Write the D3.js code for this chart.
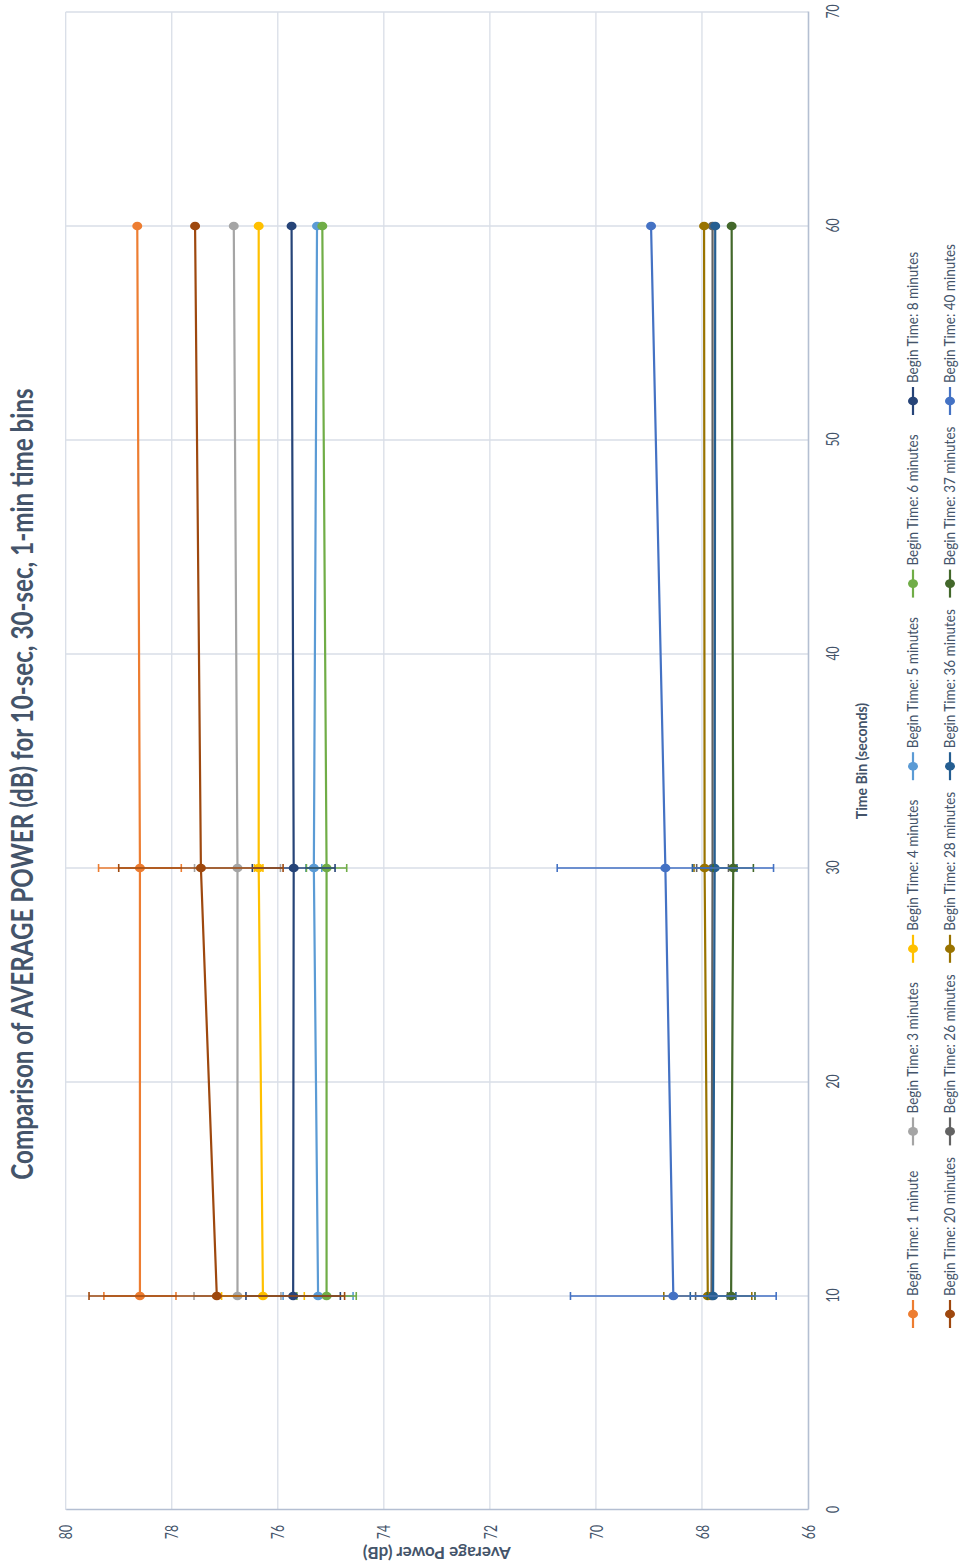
<!DOCTYPE html>
<html>
<head>
<meta charset="utf-8">
<script src="https://cdn.jsdelivr.net/npm/d3@7"></script>
<style>
  body { margin: 0; background: #ffffff; }
  svg { display: block; font-family: Lato, "Open Sans", sans-serif; }
</style>
</head>
<body>
<svg id="chart" width="961" height="1568"></svg>
<script>
// Time bins (seconds) on the category axis
const timeBins = [10, 30, 60];

// Axis ticks
const timeTicks = [0, 10, 20, 30, 40, 50, 60, 70];
const powerTicks = [66, 68, 70, 72, 74, 76, 78, 80];

// Legend labels and colours, one per begin time
const seriesLabels = [
  "Begin Time: 1 minute", "Begin Time: 3 minutes", "Begin Time: 4 minutes",
  "Begin Time: 5 minutes", "Begin Time: 6 minutes", "Begin Time: 8 minutes",
  "Begin Time: 20 minutes", "Begin Time: 26 minutes", "Begin Time: 28 minutes",
  "Begin Time: 36 minutes", "Begin Time: 37 minutes", "Begin Time: 40 minutes"
];
const seriesColors = [
  "#ED7D31", "#A5A5A5", "#FFC000", "#5B9BD5", "#70AD47", "#264478",
  "#9E480E", "#636363", "#997300", "#255E91", "#43682B", "#4472C4"
];

// Average power (dB) at 10 s, 30 s, 60 s bins
const power01 = [78.60, 78.60, 78.65];
const power03 = [76.76, 76.76, 76.83];
const power04 = [76.28, 76.36, 76.36];
const power05 = [75.24, 75.32, 75.26];
const power06 = [75.08, 75.08, 75.16];
const power08 = [75.71, 75.70, 75.74];
const power20 = [77.15, 77.45, 77.56];
const power26 = [67.82, 67.80, 67.80];
const power28 = [67.89, 67.95, 67.96];
const power36 = [67.79, 67.76, 67.75];
const power37 = [67.45, 67.41, 67.44];
const power40 = [68.54, 68.69, 68.96];

// Error bar half-widths (dB)
const err01 = [0.68, 0.78, 0];
const err03 = [0.82, 0.81, 0];
const err04 = [0.78, 0.08, 0];
const err05 = [0.66, 0.15, 0];
const err06 = [0.56, 0.38, 0];
const err08 = [0.89, 0.78, 0];
const err20 = [2.41, 1.55, 0];
const err26 = [0.30, 0.30, 0];
const err28 = [0.83, 0.20, 0];
const err36 = [0.43, 0.42, 0];
const err37 = [0.45, 0.38, 0];
const err40 = [1.94, 2.04, 0];

const powerSets = [power01, power03, power04, power05, power06, power08,
                   power20, power26, power28, power36, power37, power40];
const errSets = [err01, err03, err04, err05, err06, err08,
                 err20, err26, err28, err36, err37, err40];

const series = seriesLabels.map((label, i) => ({
  label,
  color: seriesColors[i],
  points: timeBins.map((t, j) => ({ t, v: powerSets[i][j], e: errSets[i][j] }))
}));

// The chart is laid out landscape and turned a quarter turn counter-clockwise.
const W = 1568, H = 961;
const svg = d3.select("#chart");
const root = svg.append("g").attr("transform", `translate(0,${W}) rotate(-90)`);

const plotLeft = 58, plotRight = 1556, plotTop = 65.7, plotBottom = 808;
const x = d3.scaleLinear().domain([0, 70]).range([plotLeft, plotRight]);
const y = d3.scaleLinear().domain([66, 80]).range([plotBottom, plotTop]);

const textColor = "#44546A";
const gridColor = "#D9DEE7";
const axisColor = "#B4BFD2";
const squeeze = 0.72;

// Gridlines
root.append("g").selectAll("line").data(timeTicks.filter(t => t > 0)).join("line")
  .attr("x1", d => x(d)).attr("x2", d => x(d))
  .attr("y1", plotTop).attr("y2", plotBottom)
  .attr("stroke", gridColor).attr("stroke-width", 1.3);
root.append("g").selectAll("line").data(powerTicks.filter(p => p > 66)).join("line")
  .attr("x1", plotLeft).attr("x2", plotRight)
  .attr("y1", d => y(d)).attr("y2", d => y(d))
  .attr("stroke", gridColor).attr("stroke-width", 1.3);

// Axes
const xAxis = root.append("g").attr("transform", `translate(0,${plotBottom})`)
  .call(d3.axisBottom(x).tickValues(timeTicks).tickSize(0).tickPadding(19));
const yAxis = root.append("g").attr("transform", `translate(${plotLeft},0)`)
  .call(d3.axisLeft(y).tickValues(powerTicks).tickSize(0).tickPadding(15));

[xAxis, yAxis].forEach(a => {
  a.select(".domain").attr("stroke", axisColor).attr("stroke-width", 1.6);
  a.selectAll("text").attr("fill", textColor).attr("font-size", 17)
    .attr("font-family", "Lato, sans-serif");
});
xAxis.selectAll("text").attr("transform", `scale(${squeeze},1)`);
yAxis.selectAll("text")
  .attr("x", -15 / squeeze).attr("dy", "0.36em")
  .attr("transform", `scale(${squeeze},1)`);

// Axis titles
root.append("text")
  .attr("transform", `translate(${(plotLeft + plotRight) / 2},867) scale(0.88,1)`)
  .attr("text-anchor", "middle").attr("fill", textColor)
  .attr("font-size", 16).attr("font-weight", "bold")
  .text("Time Bin (seconds)");
root.append("text")
  .attr("transform", `translate(21,${(plotTop + plotBottom) / 2}) rotate(-90)`)
  .attr("text-anchor", "middle").attr("fill", textColor)
  .attr("font-size", 17).attr("font-weight", "bold")
  .text("Average Power (dB)");

// Title
root.append("text")
  .attr("transform", `translate(${W / 2},33) scale(0.78,1)`)
  .attr("text-anchor", "middle").attr("fill", textColor)
  .attr("font-size", 31).attr("font-weight", "bold")
  .text("Comparison of AVERAGE POWER (dB) for 10-sec, 30-sec, 1-min time bins");

// Series: line, error bars, markers
const line = d3.line().x(d => x(d.t)).y(d => y(d.v));
const capHalf = 4;

series.forEach(s => {
  const g = root.append("g");
  g.append("path").datum(s.points).attr("d", line)
    .attr("fill", "none").attr("stroke", s.color).attr("stroke-width", 2.2);

  const eb = g.append("g").selectAll("g").data(s.points).join("g");
  eb.append("line")
    .attr("x1", d => x(d.t)).attr("x2", d => x(d.t))
    .attr("y1", d => y(d.v - d.e)).attr("y2", d => y(d.v + d.e))
    .attr("stroke", s.color).attr("stroke-width", 1.6);
  eb.append("line")
    .attr("x1", d => x(d.t) - capHalf).attr("x2", d => x(d.t) + capHalf)
    .attr("y1", d => y(d.v - d.e)).attr("y2", d => y(d.v - d.e))
    .attr("stroke", s.color).attr("stroke-width", 1.6);
  eb.append("line")
    .attr("x1", d => x(d.t) - capHalf).attr("x2", d => x(d.t) + capHalf)
    .attr("y1", d => y(d.v + d.e)).attr("y2", d => y(d.v + d.e))
    .attr("stroke", s.color).attr("stroke-width", 1.6);

  g.append("g").selectAll("ellipse").data(s.points).join("ellipse")
    .attr("cx", d => x(d.t)).attr("cy", d => y(d.v))
    .attr("rx", 4.3).attr("ry", 5)
    .attr("fill", s.color);
});

// Legend: two rows of six entries
const legend = root.append("g");
const colStart = 240, colStep = 182.6, rowY = [913, 950];
series.forEach((s, i) => {
  const col = i % 6, row = Math.floor(i / 6);
  const lx = colStart + col * colStep, ly = rowY[row];
  const g = legend.append("g").attr("transform", `translate(${lx},${ly})`);
  g.append("line").attr("x1", 0).attr("x2", 28).attr("y1", 0).attr("y2", 0)
    .attr("stroke", s.color).attr("stroke-width", 2.2);
  g.append("ellipse").attr("cx", 14).attr("cy", 0).attr("rx", 4.3).attr("ry", 5)
    .attr("fill", s.color);
  g.append("text")
    .attr("transform", `translate(32,0) scale(0.9,1)`)
    .attr("dy", "0.35em").attr("fill", textColor).attr("font-size", 15)
    .text(s.label);
});
</script>
</body>
</html>
